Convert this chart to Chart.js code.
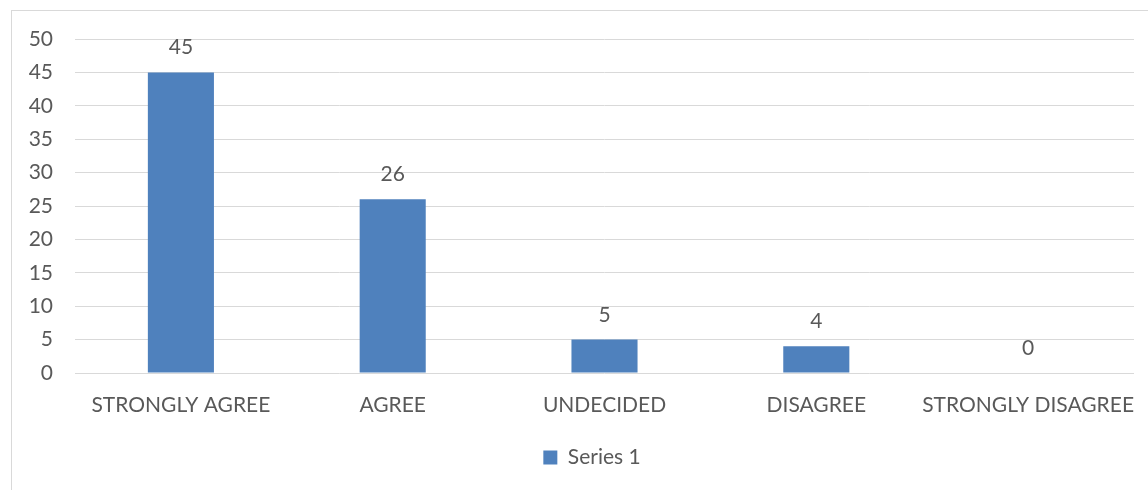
<!DOCTYPE html>
<html>
<head>
<meta charset="utf-8">
<script src="https://cdn.jsdelivr.net/npm/chart.js@4.4.1/dist/chart.umd.min.js"></script>
<style>
  html, body { margin: 0; padding: 0; background: #fff; overflow: hidden; }
  #box { position: absolute; left: 11px; top: 10px; width: 1160px; height: 500px; border: 1px solid #d9d9d9; }
</style>
</head>
<body>
<div id="box"><canvas id="barChart"></canvas></div>
<script>
const categories = ['STRONGLY AGREE', 'AGREE', 'UNDECIDED', 'DISAGREE', 'STRONGLY DISAGREE'];
const series1 = [45, 26, 5, 4, 0];
const yTicks = [0, 5, 10, 15, 20, 25, 30, 35, 40, 45, 50];

const textColor = '#595959';
const fontFamily = 'Lato, "Open Sans", sans-serif';

// value labels above each bar
const valueLabels = {
  id: 'valueLabels',
  afterDatasetsDraw(chart) {
    const ctx = chart.ctx;
    const meta = chart.getDatasetMeta(0);
    ctx.save();
    ctx.font = '21px ' + fontFamily;
    ctx.fillStyle = textColor;
    ctx.textAlign = 'center';
    ctx.textBaseline = 'alphabetic';
    meta.data.forEach((bar, i) => {
      ctx.fillText(String(series1[i]), bar.x, bar.y - 18);
    });
    ctx.restore();
  }
};

// centre the legend on the whole frame rather than on the axes block
const legendShift = {
  id: 'legendShift',
  afterLayout(chart) {
    const lg = chart.legend;
    if (!lg) return;
    const dx = (chart.width - 2 * lg.left - (lg.right - lg.left)) / 2;
    lg.left += dx;
    lg.right += dx;
    lg.adjustHitBoxes();
  }
};

new Chart(document.getElementById('barChart'), {
  type: 'bar',
  data: {
    labels: categories,
    datasets: [{
      label: 'Series 1',
      data: series1,
      backgroundColor: '#4f81bd',
      categoryPercentage: 1,
      barPercentage: 0.312
    }]
  },
  options: {
    responsive: true,
    maintainAspectRatio: false,
    animation: false,
    layout: { padding: { top: 28, right: 38, bottom: 33, left: 0 } },
    plugins: {
      legend: {
        position: 'bottom',
        labels: {
          color: textColor,
          font: { family: fontFamily, size: 21 },
          boxWidth: 14, boxHeight: 14, padding: 10
        }
      },
      tooltip: { enabled: false }
    },
    scales: {
      y: {
        min: 0, max: 50,
        afterBuildTicks(axis) { axis.ticks = yTicks.map(v => ({ value: v })); },
        afterFit(axis) { axis.width = 63; axis.paddingTop = 0; axis.paddingBottom = 0; },
        grid: { color: '#d9d9d9', lineWidth: 1, drawTicks: false },
        border: { display: false },
        ticks: { color: textColor, font: { family: fontFamily, size: 21 }, padding: 22 }
      },
      x: {
        afterFit(axis) { axis.height = 64; },
        grid: { display: false, drawTicks: false },
        border: { display: false },
        ticks: { color: textColor, font: { family: fontFamily, size: 21 }, padding: 20, maxRotation: 0, autoSkip: false }
      }
    }
  },
  plugins: [valueLabels, legendShift]
});
</script>
</body>
</html>
